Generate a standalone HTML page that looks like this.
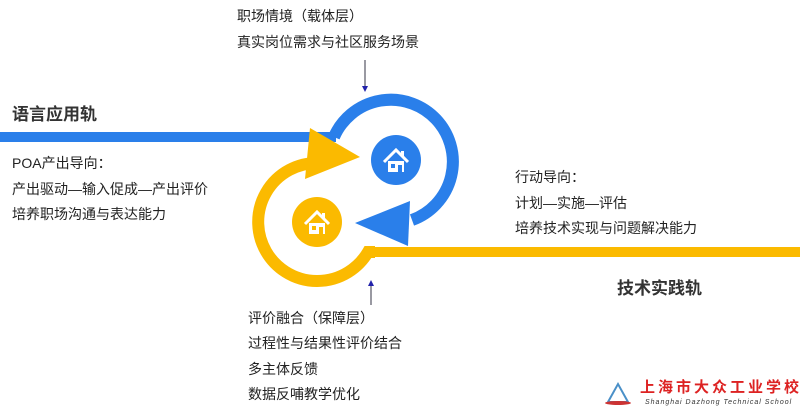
<!DOCTYPE html>
<html><head><meta charset="utf-8"><style>
body{margin:0;width:800px;height:409px;background:#fff;position:relative;overflow:hidden;font-family:"Liberation Sans","Noto Sans CJK SC",sans-serif;color:#222}
.t{position:absolute;font-size:14px;white-space:nowrap;line-height:16px}
.b{position:absolute;font-size:17px;font-weight:bold;white-space:nowrap;color:#333}
</style></head><body>
<svg width="800" height="409" style="position:absolute;left:0;top:0">
<defs>
<g id="house"><path d="M-12,1 L0,-11 L12,1" fill="none" stroke="#fff" stroke-width="3"/><rect x="-8" y="0" width="16" height="11" fill="#fff"/><rect x="5" y="-10" width="3" height="6" fill="#fff"/><rect x="-5" y="3" width="4" height="4" fill="currentColor"/><rect x="2" y="4" width="4" height="7" fill="currentColor"/></g>
</defs>
<line x1="800" y1="252" x2="375" y2="252" stroke="#FBBA00" stroke-width="10"/>
<path d="M375,252 Q370,252 368,252 A59,59 0 1 1 317,163" fill="none" stroke="#FBBA00" stroke-width="12"/>
<line x1="0" y1="137" x2="336" y2="137" stroke="#2A7FEA" stroke-width="10"/>
<path d="M334,137 A62,62 0 1 1 412,220" fill="none" stroke="#2A7FEA" stroke-width="12"/>
<polygon points="355,223 410,201 408,246" fill="#2A7FEA"/>
<polygon points="360,157 310,128 305,179" fill="#FBBA00"/>
<circle cx="396" cy="160" r="25" fill="#2A7FEA"/>
<g transform="translate(396,161)" color="#2A7FEA"><use href="#house"/></g>
<circle cx="317" cy="222" r="25" fill="#FBBA00"/>
<g transform="translate(317,223)" color="#FBBA00"><use href="#house"/></g>
<line x1="365" y1="60" x2="365" y2="89" stroke="#334" stroke-width="1"/>
<polygon points="362,86 368,86 365,92" fill="#22a"/>
<line x1="371" y1="283" x2="371" y2="305" stroke="#334" stroke-width="1"/>
<polygon points="368,286 374,286 371,280" fill="#22a"/>
<path d="M608,402 L618,384 L628,402 Z" fill="none" stroke="#4a90c8" stroke-width="2"/>
<ellipse cx="618" cy="403" rx="13" ry="2" fill="#c33"/>
</svg>
<div class="t" style="left:237px;top:8px">职场情境（载体层）</div>
<div class="t" style="left:237px;top:34px">真实岗位需求与社区服务场景</div>
<div class="b" style="left:12px;top:100px">语言应用轨</div>
<div class="t" style="left:12px;top:155px">POA产出导向：</div>
<div class="t" style="left:12px;top:181px">产出驱动—输入促成—产出评价</div>
<div class="t" style="left:12px;top:206px">培养职场沟通与表达能力</div>
<div class="t" style="left:515px;top:169px">行动导向：</div>
<div class="t" style="left:515px;top:195px">计划—实施—评估</div>
<div class="t" style="left:515px;top:220px">培养技术实现与问题解决能力</div>
<div class="b" style="left:617px;top:274px">技术实践轨</div>
<div class="t" style="left:248px;top:310px">评价融合（保障层）</div>
<div class="t" style="left:248px;top:335px">过程性与结果性评价结合</div>
<div class="t" style="left:248px;top:361px">多主体反馈</div>
<div class="t" style="left:248px;top:386px">数据反哺教学优化</div>
<div class="t" style="left:640px;top:380px;color:#d22;font-size:15px;font-weight:bold;letter-spacing:3px">上海市大众工业学校</div>
<div class="t" style="left:645px;top:398px;font-size:7px;font-style:italic;color:#333;line-height:9px;letter-spacing:1px">Shanghai Dazhong Technical School</div>
</body></html>
